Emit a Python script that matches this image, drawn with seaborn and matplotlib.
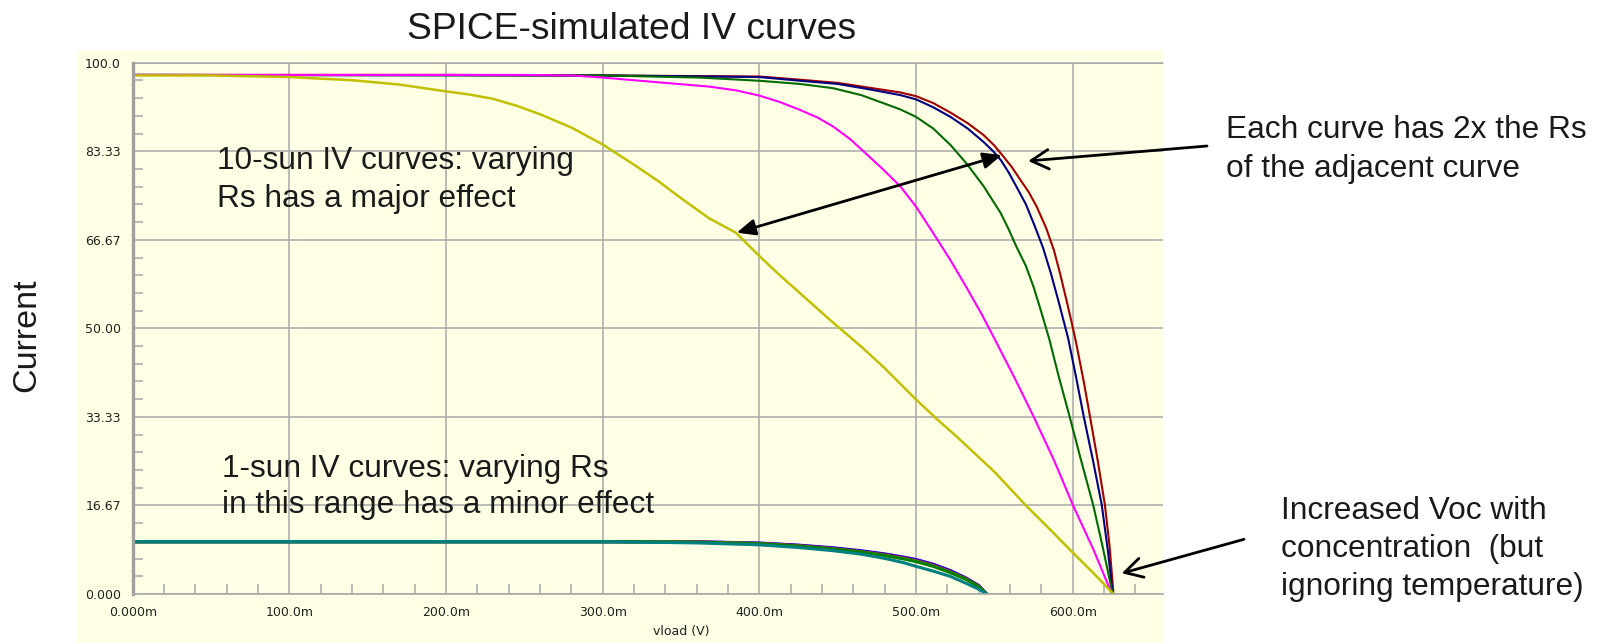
import matplotlib
matplotlib.use("Agg")
import matplotlib.pyplot as plt
from matplotlib.patches import Rectangle
from matplotlib.ticker import MultipleLocator, FixedLocator
import pandas as pd
import seaborn as sns

# ---- 10-sun IV curves (vload in mV, current) ----
v_red = [0, 200, 300, 400, 426, 450, 470, 490, 500, 511, 522, 533, 543, 550, 555, 561, 566,
         572, 577, 583, 588, 592, 596, 599, 602, 607, 611, 616, 620.5, 623.5, 626]
i_red = [97.7, 97.7, 97.6, 97.4, 96.8, 96.2, 95.3, 94.4, 93.7, 92.4, 90.6, 88.6, 86.4, 84.4, 82.6,
         80.4, 78.2, 75.6, 72.9, 68.9, 64.7, 60.2, 55.3, 51.5, 47.5, 40.0, 33.4, 25.0, 16.8, 9.0, 0]

v_navy = [0, 300, 400, 426, 450, 470, 490, 500, 511, 522, 533, 543, 549, 554, 559, 564, 570,
          575, 581, 586, 591, 597, 602, 607, 613, 618.5, 622.5, 625.5]
i_navy = [97.7, 97.6, 97.3, 96.6, 96.0, 95.0, 93.9, 93.1, 91.6, 89.8, 87.6, 85.1, 83.4, 81.7,
          79.4, 76.7, 73.4, 69.8, 65.2, 60.4, 55.0, 48.2, 41.0, 33.4, 25.0, 16.8, 8.0, 0]

v_green = [0, 300, 362, 400, 426, 447, 465, 479, 490, 500, 511, 522, 532, 543, 554, 559, 564,
           570, 575, 580, 585, 591, 598, 605, 613, 619, 625.5]
i_green = [97.7, 97.6, 97.2, 96.6, 96.0, 95.2, 93.9, 92.4, 91.2, 89.8, 87.6, 84.5, 81.1, 76.8,
           71.7, 68.7, 65.4, 61.8, 57.8, 53.0, 48.0, 41.0, 33.4, 25.5, 16.8, 9.0, 0]

v_magenta = [0, 250, 280, 300, 320, 340, 368, 385, 400, 413, 426, 437, 447, 458, 468, 479, 490,
             500, 511, 522, 532, 542, 551, 563, 575, 588, 600, 613, 625]
i_magenta = [97.7, 97.7, 97.6, 97.2, 96.7, 96.2, 95.5, 94.8, 93.8, 92.6, 91.1, 89.7, 88.0, 85.6,
             82.9, 79.9, 76.7, 72.9, 67.9, 62.8, 57.8, 52.6, 47.5, 40.6, 33.4, 25.2, 16.8, 8.5, 0]

v_yellow = [0, 50, 100, 120, 140, 170, 200, 215, 230, 245, 260, 280, 300, 320, 335, 350, 368,
            385, 400, 413, 426, 445, 466, 480, 500, 513, 526, 538, 550, 570, 586, 600, 613, 626]
i_yellow = [97.6, 97.6, 97.3, 97.0, 96.7, 95.9, 94.6, 94.0, 93.2, 91.9, 90.3, 87.8, 84.6, 80.8,
            77.8, 74.5, 70.7, 68.0, 63.6, 60.0, 56.6, 51.6, 46.3, 42.5, 36.6, 33.0, 29.6, 26.3,
            23.0, 16.7, 12.0, 7.8, 4.0, 0]

# ---- 1-sun IV curves ----
v_one = [0, 300, 340, 362, 400, 425, 447, 465, 480, 492, 500, 511, 522, 532, 540, 545]
i_one_blue = [9.84, 9.84, 9.84, 9.82, 9.60, 9.20, 8.70, 8.15, 7.55, 6.95, 6.50, 5.60, 4.40, 3.00, 1.60, 0]
i_one_purple = [9.84, 9.84, 9.84, 9.80, 9.55, 9.15, 8.60, 8.05, 7.45, 6.85, 6.35, 5.45, 4.25, 2.90, 1.50, 0]
i_one_olive = [9.84, 9.84, 9.82, 9.76, 9.50, 9.05, 8.50, 7.95, 7.30, 6.70, 6.20, 5.30, 4.10, 2.80, 1.40, 0]
i_one_green = [9.84, 9.84, 9.80, 9.72, 9.45, 9.00, 8.45, 7.90, 7.25, 6.60, 6.10, 5.20, 4.00, 2.75, 1.35, 0]
i_one_teal = [9.84, 9.84, 9.70, 9.60, 9.25, 8.75, 8.15, 7.50, 6.70, 5.90, 5.20, 4.30, 3.30, 2.00, 0.90, 0]

# axis ticks
y_ticks = [0, 100 / 6, 200 / 6, 50, 400 / 6, 500 / 6, 100]
y_tick_labels = ["0.000", "16.67", "33.33", "50.00", "66.67", "83.33", "100.0"]
x_ticks = [0, 100, 200, 300, 400, 500, 600]
x_tick_labels = ["0.000m", "100.0m", "200.0m", "300.0m", "400.0m", "500.0m", "600.0m"]

W, H = 1602, 643


def px(x, y):
    """pixel position (from top-left) -> figure fraction"""
    return x / W, 1 - y / H


def long_frame(curves):
    rows = []
    for name, (v, i) in curves.items():
        rows.append(pd.DataFrame({"curve": name, "vload": v, "current": i}))
    return pd.concat(rows, ignore_index=True)


# drawing order: first entry is drawn first (bottom)
ten_sun = long_frame({
    "red": (v_red, i_red),
    "navy": (v_navy, i_navy),
    "green": (v_green, i_green),
    "magenta": (v_magenta, i_magenta),
})
ten_sun_yellow = long_frame({"yellow": (v_yellow, i_yellow)})
one_sun = long_frame({
    "blue": (v_one, i_one_blue),
    "purple": (v_one, i_one_purple),
    "olive": (v_one, i_one_olive),
    "green": (v_one, i_one_green),
    "teal": (v_one, i_one_teal),
})

pal_ten = {"red": "#A00000", "navy": "#000080", "green": "#006A00",
           "magenta": "#FF00FF", "yellow": "#C0C000"}
pal_one = {"blue": "#0000FF", "purple": "#800080", "olive": "#808000",
           "green": "#008000", "teal": "#008080"}

sns.set_style("white")
plt.rcParams["font.family"] = ["Liberation Sans", "DejaVu Sans"]

cream = "#FFFFE6"
grid_c = "#A8A8A8"
ink = "#1a1a1a"

fig = plt.figure(figsize=(W / 100, H / 100), dpi=100)
fig.patch.set_facecolor("white")
x0, _ = px(77, 0)
x1, _ = px(1163, 0)
fig.add_artist(Rectangle((x0, 0), x1 - x0, 1 - 50 / H, transform=fig.transFigure,
                         facecolor=cream, edgecolor="none", zorder=0))

left, top = px(132.7, 62.7)
right, bottom = px(1163, 594)
ax = fig.add_axes([left, bottom, right - left, top - bottom])
ax.set_facecolor(cream)

sns.lineplot(data=one_sun, x="vload", y="current", hue="curve", palette=pal_one,
             estimator=None, sort=False, legend=False, linewidth=2.2, ax=ax)
sns.lineplot(data=ten_sun, x="vload", y="current", hue="curve", palette=pal_ten,
             estimator=None, sort=False, legend=False, linewidth=1.5, ax=ax)
sns.lineplot(data=ten_sun_yellow, x="vload", y="current", hue="curve", palette=pal_ten,
             estimator=None, sort=False, legend=False, linewidth=1.8, ax=ax)

ax.set_xlim(0, 657.6)
ax.set_ylim(0, 100)
ax.set_xlabel("")
ax.set_ylabel("")

ax.xaxis.set_major_locator(FixedLocator(x_ticks))
ax.yaxis.set_major_locator(FixedLocator(y_ticks))
ax.set_xticklabels(x_tick_labels, fontfamily="DejaVu Sans", fontsize=9, color="#202020")
ax.set_yticklabels(y_tick_labels, fontfamily="DejaVu Sans", fontsize=9, color="#202020")
ax.xaxis.set_minor_locator(MultipleLocator(20))
ax.yaxis.set_minor_locator(MultipleLocator(100 / 30))
ax.tick_params(which="major", length=0)
ax.tick_params(axis="y", which="major", pad=8.4)
ax.tick_params(axis="x", which="major", pad=8.4)
ax.tick_params(which="minor", direction="in", length=7.5, width=1.1, color=grid_c,
               bottom=True, left=True, top=False, right=False)

ax.grid(True, which="major", color=grid_c, linewidth=1.1)
ax.set_axisbelow(True)
for s in ("top", "right"):
    ax.spines[s].set_visible(False)
ax.spines["left"].set_color("#A0A0A0")
ax.spines["left"].set_linewidth(2.4)
ax.spines["bottom"].set_color(grid_c)
ax.spines["bottom"].set_linewidth(1.2)
ax.axhline(100, color=grid_c, linewidth=1.1, clip_on=False, zorder=1)

# titles and labels
fig.text(*px(632, 39.3), "SPICE-simulated IV curves", fontsize=26.8, ha="center",
         va="baseline", color=ink)
fig.text(*px(27, 335), "Current", fontsize=24.5, rotation=90, ha="center", va="center",
         color=ink)
fig.text(*px(681, 631), "vload (V)", fontsize=9, ha="center", va="center",
         fontfamily="DejaVu Sans", color="#202020")


def note(x, baselines, lines):
    for y, s in zip(baselines, lines):
        fig.text(*px(x, y), s, fontsize=22.8, ha="left", va="baseline", color=ink)


note(217, [169, 207], ["10-sun IV curves: varying", "Rs has a major effect"])
note(222, [477, 513.5], ["1-sun IV curves: varying Rs", "in this range has a minor effect"])
note(1226, [138.3, 176.7], ["Each curve has 2x the Rs", "of the adjacent curve"])
note(1281, [519, 557, 595], ["Increased Voc with", "concentration  (but", "ignoring temperature)"])

# arrows
ax.annotate("", xy=(554.7, 82.6), xytext=(385.5, 68.0), xycoords="data", textcoords="data",
            arrowprops=dict(arrowstyle="<|-|>,head_length=0.8,head_width=0.35",
                            color="black", lw=2, mutation_scale=14, shrinkA=0, shrinkB=0))
ax.annotate("", xy=(571.6, 81.5), xycoords="data", xytext=px(1207, 146),
            textcoords="figure fraction", annotation_clip=False,
            arrowprops=dict(arrowstyle="->,head_length=0.9,head_width=0.5",
                            color="black", lw=2, mutation_scale=14, shrinkA=0, shrinkB=0))
ax.annotate("", xy=(631.3, 3.9), xycoords="data", xytext=px(1244, 539.3),
            textcoords="figure fraction", annotation_clip=False,
            arrowprops=dict(arrowstyle="->,head_length=0.9,head_width=0.5",
                            color="black", lw=2, mutation_scale=14, shrinkA=0, shrinkB=0))

fig.savefig("out.png", dpi=100, facecolor="white")
